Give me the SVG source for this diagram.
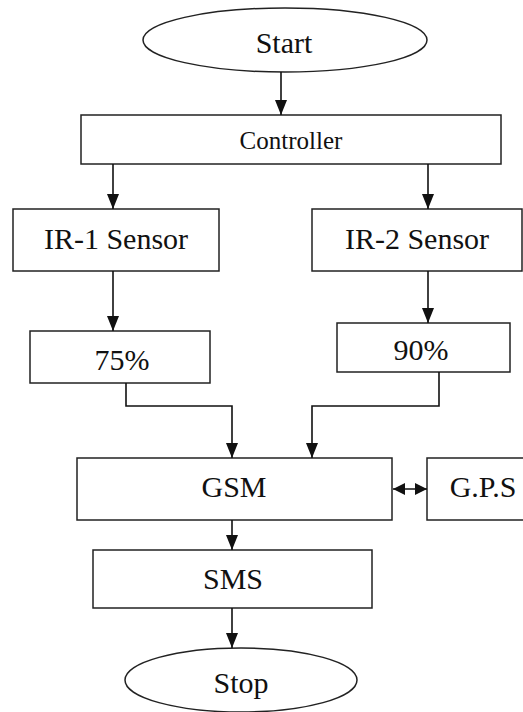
<svg xmlns="http://www.w3.org/2000/svg" width="523" height="712" viewBox="0 0 523 712">
<defs>
<marker id="ah" markerUnits="userSpaceOnUse" markerWidth="15" markerHeight="12" refX="15" refY="6" orient="auto-start-reverse">
<path d="M0,0 L15,6 L0,12 z" fill="#111"/>
</marker>
<marker id="ahs" markerUnits="userSpaceOnUse" markerWidth="12" markerHeight="12" refX="12" refY="6" orient="auto-start-reverse">
<path d="M0,0 L12,6 L0,12 z" fill="#111"/>
</marker>
</defs>
<style>
.box{fill:#fff;stroke:#222;stroke-width:1.5}
.t{font-size:30px;fill:#111;text-anchor:middle}
.c{fill:none;stroke:#111;stroke-width:1.6}
</style>
<rect width="523" height="712" fill="#fff"/>
<g font-family="'Liberation Serif', 'Times New Roman', serif">
<g id="start"><ellipse class="box" cx="285" cy="40" rx="142" ry="32"/><text class="t" x="284" y="53">Start</text></g>
<g id="controller"><rect class="box" x="81" y="115" width="420" height="49"/><text class="t" x="291" y="149" style="font-size:25px">Controller</text></g>
<g id="ir1"><rect class="box" x="13" y="209" width="206" height="62"/><text class="t" x="116" y="249">IR-1 Sensor</text></g>
<g id="ir2"><rect class="box" x="312" y="209" width="210" height="62"/><text class="t" x="417" y="249">IR-2 Sensor</text></g>
<g id="p75"><rect class="box" x="30" y="331" width="180" height="52"/><text class="t" x="122" y="370">75%</text></g>
<g id="p90"><rect class="box" x="337" y="323" width="173" height="49"/><text class="t" x="421" y="360">90%</text></g>
<g id="gsm"><rect class="box" x="77" y="458" width="315" height="62"/><text class="t" x="234" y="497">GSM</text></g>
<g id="gps"><rect class="box" x="427" y="458" width="110" height="62"/><text class="t" x="483" y="497">G.P.S</text></g>
<g id="sms"><rect class="box" x="93" y="550" width="279" height="58"/><text class="t" x="233" y="589">SMS</text></g>
<g id="stop"><ellipse class="box" cx="241" cy="680" rx="116" ry="32"/><text class="t" x="241" y="693">Stop</text></g>
</g>
<g id="connectors">
<path class="c" d="M281,72 V115" marker-end="url(#ah)"/>
<path class="c" d="M113,164 V209" marker-end="url(#ah)"/>
<path class="c" d="M428,164 V209" marker-end="url(#ah)"/>
<path class="c" d="M113,271 V331" marker-end="url(#ah)"/>
<path class="c" d="M428,271 V323" marker-end="url(#ah)"/>
<path class="c" d="M126,383 V406 H232 V458" marker-end="url(#ah)"/>
<path class="c" d="M439,372 V406 H312 V458" marker-end="url(#ah)"/>
<path class="c" d="M232,520 V550" marker-end="url(#ah)"/>
<path class="c" d="M232,608 V648" marker-end="url(#ah)"/>
<path class="c" d="M393,489 H427" marker-start="url(#ahs)" marker-end="url(#ahs)"/>
</g>
</svg>
